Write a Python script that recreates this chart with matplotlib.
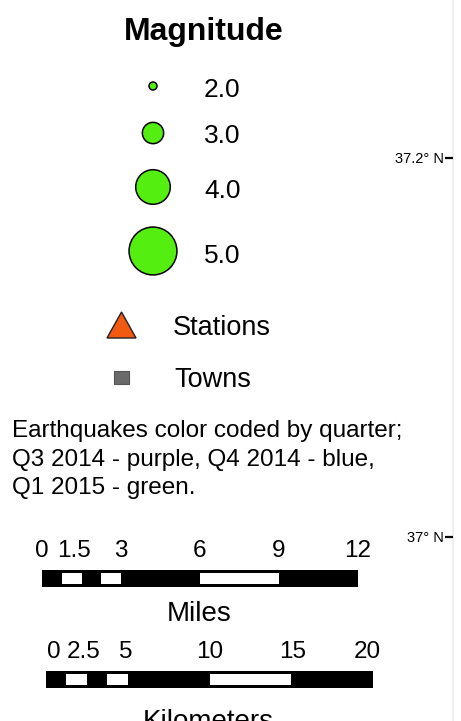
import numpy as np
import matplotlib
matplotlib.use("Agg")
import matplotlib.pyplot as plt
from matplotlib.patches import Circle, Rectangle, Polygon

plt.rcParams["font.family"] = ["Liberation Sans", "DejaVu Sans"]

# ----------------------------
# Legend data
# ----------------------------
magnitudes = [2.0, 3.0, 4.0, 5.0]
mag_labels = ["2.0", "3.0", "4.0", "5.0"]
point_labels = ["Stations", "Towns"]
note_lines = [
    "Earthquakes color coded by quarter;",
    "Q3 2014 - purple, Q4 2014 - blue,",
    "Q1 2015 - green.",
]
mile_ticks = [0, 1.5, 3, 6, 9, 12]
mile_tick_labels = ["0", "1.5", "3", "6", "9", "12"]
km_ticks = [0, 2.5, 5, 10, 15, 20]
km_tick_labels = ["0", "2.5", "5", "10", "15", "20"]
lat_labels = ["37.2\u00b0 N", "37\u00b0 N"]

GREEN = "#55EE11"
ORANGE = "#F25A12"
GRAY = "#6A6A6A"

W, H = 461, 721


def mag_diameter(m):
    # symbol size grows linearly with magnitude (px)
    return 8 + 13.3 * (m - 2.0)


def bar_edges(ticks):
    # first two intervals are split in half, like a typical map scale bar
    edges = [ticks[0]]
    for i in range(1, len(ticks)):
        if i <= 2:
            edges.append((ticks[i - 1] + ticks[i]) / 2.0)
        edges.append(ticks[i])
    return edges


def draw_scalebar(fig, left, right, top, bottom, ticks, labels, label_shift):
    ax = fig.add_axes([left / W, 1 - bottom / H, (right - left) / W, (bottom - top) / H])
    ax.set_xlim(ticks[0], ticks[-1])
    ax.set_ylim(0, 1)
    ax.axis("off")
    ax.add_patch(Rectangle((ticks[0], 0), ticks[-1] - ticks[0], 1, color="black", lw=0))
    edges = bar_edges(ticks)
    for i in range(len(edges) - 1):
        if i % 2 == 1:
            ax.add_patch(Rectangle((edges[i], 0.18), edges[i + 1] - edges[i], 0.64,
                                   color="white", lw=0))
    for t, lab, dx in zip(ticks, labels, label_shift):
        ax.text(t + dx, 1.75, lab, ha="center", va="baseline", fontsize=17.5)
    return ax


fig = plt.figure(figsize=(W / 100, H / 100), dpi=100)
ax = fig.add_axes([0, 0, 1, 1])
ax.set_xlim(0, W)
ax.set_ylim(H, 0)
ax.axis("off")

# Magnitude legend
ax.text(204, 40, "Magnitude", ha="center", va="baseline", fontsize=23, fontweight="bold")
circle_y = [86, 133, 187, 251]
label_y = [97, 143, 198, 263]
for m, lab, cy, ly in zip(magnitudes, mag_labels, circle_y, label_y):
    ax.add_patch(Circle((153, cy), mag_diameter(m) / 2, facecolor=GREEN,
                        edgecolor="black", lw=1.1))
    ax.text(204, ly, lab, ha="left", va="baseline", fontsize=19)

# Stations / towns
ax.add_patch(Polygon([(107, 338), (121.5, 312), (136, 338)], closed=True,
                     facecolor=ORANGE, edgecolor="#222222", lw=1.0))
ax.add_patch(Rectangle((114, 371), 15, 13, facecolor=GRAY, edgecolor="#555555", lw=0.8))
ax.text(173, 335, point_labels[0], ha="left", va="baseline", fontsize=19.5)
ax.text(174, 387, point_labels[1], ha="left", va="baseline", fontsize=19.5)

# Note
for i, line in enumerate(note_lines):
    ax.text(12, 437 + i * 28.7, line, ha="left", va="baseline", fontsize=17.5)

# Scale bars
draw_scalebar(fig, 42, 358, 570, 587, mile_ticks, mile_tick_labels,
              [0, -0.3, 0, 0, 0, 0])
ax.text(199, 621, "Miles", ha="center", va="baseline", fontsize=20)
draw_scalebar(fig, 46, 373, 671, 688, km_ticks, km_tick_labels,
              [0.45, -0.2, -0.1, 0, 0.1, -0.35])
ax.text(208, 729, "Kilometers", ha="center", va="baseline", fontsize=20)

# Latitude ticks at the map edge
ax.axvline(453, color="#ececec", lw=1.2)
for lab, ty, tb in zip(lat_labels, [158, 537], [163, 542]):
    ax.text(444, tb, lab, ha="right", va="baseline", fontsize=10.5)
    ax.plot([445, 453], [ty, ty], color="black", lw=1.6, solid_capstyle="butt")

fig.savefig("out.png", dpi=100, facecolor="white")
